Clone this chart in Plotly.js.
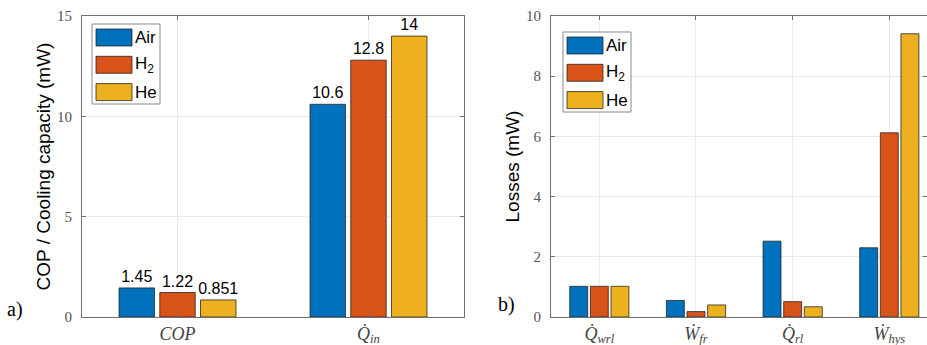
<!DOCTYPE html>
<html>
<head>
<meta charset="utf-8">
<script src="https://cdn.plot.ly/plotly-3.0.1.min.js"></script>
<style>html,body{margin:0;padding:0;background:#fff;}#chart{width:927px;height:345px;}</style>
</head>
<body>
<div id="chart"></div>
<script>
// ---- Data ----
const seriesNames = ['Air', 'H<sub>2</sub>', 'He'];
const seriesColors = ['#0072BD', '#D95319', '#EDB120'];

const categoriesA = ['<i>COP</i>', '<i>Q\u0307</i><sub><i>in</i></sub>'];
const airA = [1.45, 10.6];
const h2A = [1.22, 12.8];
const heA = [0.851, 14];
const labelsAirA = ['1.45', '10.6'];
const labelsH2A = ['1.22', '12.8'];
const labelsHeA = ['0.851', '14'];

const categoriesB = ['<i>Q\u0307</i><sub><i>wrl</i></sub>', '<i>W\u0307</i><sub><i>fr</i></sub>', '<i>Q\u0307</i><sub><i>rl</i></sub>', '<i>W\u0307</i><sub><i>hys</i></sub>'];
const airB = [1.02, 0.55, 2.52, 2.30];
const h2B = [1.02, 0.18, 0.51, 6.12];
const heB = [1.02, 0.40, 0.34, 9.41];

const yTitleA = 'COP / Cooling capacity (mW)';
const yTitleB = 'Losses (mW)';

// ---- Traces ----
const posA = categoriesA.map((_, i) => i + 1);
const posB = categoriesB.map((_, i) => i + 1);
const edge = {color: 'rgba(30,30,30,0.75)', width: 1};
const textFont = {family: 'Liberation Sans, Arial, sans-serif', size: 16, color: '#000'};

const dataA = [airA, h2A, heA];
const labA = [labelsAirA, labelsH2A, labelsHeA];
const dataB = [airB, h2B, heB];

const traces = [];
dataA.forEach((vals, k) => {
  traces.push({
    type: 'bar', x: posA, y: vals, name: seriesNames[k], xaxis: 'x', yaxis: 'y',
    marker: {color: seriesColors[k], line: edge},
    text: labA[k], textposition: 'outside', textfont: textFont, cliponaxis: false,
    constraintext: 'none', showlegend: false, hoverinfo: 'y'
  });
});
dataB.forEach((vals, k) => {
  traces.push({
    type: 'bar', x: posB, y: vals, name: seriesNames[k], xaxis: 'x2', yaxis: 'y2',
    marker: {color: seriesColors[k], line: edge},
    showlegend: false, hoverinfo: 'y'
  });
});

// ---- Layout ----
const W = 927;
const tickFontY = {family: 'Liberation Serif, Times New Roman, serif', size: 15, color: '#555'};
const tickFontX = {family: 'Liberation Serif, DejaVu Serif, serif', size: 18, color: '#444'};
const titleFont = {family: 'Liberation Sans, Arial, sans-serif', size: 19, color: '#000'};

function xAxis(domain, cats, range) {
  return {
    domain: domain, range: range, tickmode: 'array',
    tickvals: cats.map((_, i) => i + 1), ticktext: cats,
    showgrid: true, gridcolor: '#ebebeb', gridwidth: 1,
    showline: true, linecolor: '#6e6e6e', linewidth: 1, mirror: 'ticks',
    ticks: 'inside', ticklen: 4, tickcolor: '#6e6e6e',
    tickfont: tickFontX, ticklabelstandoff: 0, zeroline: false, fixedrange: true
  };
}
function yAxis(anchor, range, dtick, title) {
  return {
    anchor: anchor, range: range, dtick: dtick, tick0: 0,
    showgrid: true, gridcolor: '#ebebeb', gridwidth: 1,
    showline: true, linecolor: '#6e6e6e', linewidth: 1, mirror: 'ticks',
    ticks: 'inside', ticklen: 4, tickcolor: '#6e6e6e',
    tickfont: tickFontY, ticklabelstandoff: 6, zeroline: false, fixedrange: true,
    title: {text: title, font: titleFont, standoff: 1}
  };
}

const layout = {
  width: 927, height: 345,
  margin: {l: 0, r: 0, t: 16, b: 28, pad: 0},
  paper_bgcolor: '#fff', plot_bgcolor: '#fff',
  barmode: 'group', bargap: 0.36, bargroupgap: 0.13,
  showlegend: false,
  xaxis: xAxis([82 / W, 464 / W], categoriesA, [0.5, 2.5]),
  yaxis: yAxis('x', [0, 15], 5, yTitleA),
  xaxis2: Object.assign(xAxis([551 / W, 1], categoriesB, [0.5, 4.39]), {anchor: 'y2'}),
  yaxis2: yAxis('x2', [0, 10], 2, yTitleB),
  shapes: [], annotations: []
};

// panel labels
layout.annotations.push({xref: 'paper', yref: 'paper', x: 15 / W, y: (317 - 309) / 301, text: 'a)', showarrow: false,
  font: {family: 'Liberation Serif, Times New Roman, serif', size: 20, color: '#000'}, xanchor: 'center', yanchor: 'middle'});
layout.annotations.push({xref: 'paper', yref: 'paper', x: 506 / W, y: (317 - 304) / 301, text: 'b)', showarrow: false,
  font: {family: 'Liberation Serif, Times New Roman, serif', size: 20, color: '#000'}, xanchor: 'center', yanchor: 'middle'});

// custom legends (MATLAB style with large swatches)
function addLegend(boxX, boxY) {
  const py = v => (317 - v) / 301;
  layout.shapes.push({type: 'rect', xref: 'paper', yref: 'paper', x0: boxX / W, x1: (boxX + 68) / W,
    y0: py(boxY + 80), y1: py(boxY), line: {color: '#8a8a8a', width: 1}, fillcolor: '#fff', layer: 'above'});
  seriesNames.forEach((nm, k) => {
    const top = boxY + 5 + k * 27.3;
    layout.shapes.push({type: 'rect', xref: 'paper', yref: 'paper', x0: (boxX + 4) / W, x1: (boxX + 40) / W,
      y0: py(top + 17), y1: py(top), fillcolor: seriesColors[k], line: {color: 'rgba(30,30,30,0.75)', width: 1}, layer: 'above'});
    layout.annotations.push({xref: 'paper', yref: 'paper', x: (boxX + 41) / W, y: py(top + 8.5), text: nm,
      showarrow: false, xanchor: 'left', yanchor: 'middle', font: {family: 'Liberation Sans, Arial, sans-serif', size: 17, color: '#000'}});
  });
}
addLegend(92, 24);
addLegend(563, 32);

Plotly.newPlot('chart', traces, layout, {staticPlot: true, displayModeBar: false});
</script>
</body>
</html>
